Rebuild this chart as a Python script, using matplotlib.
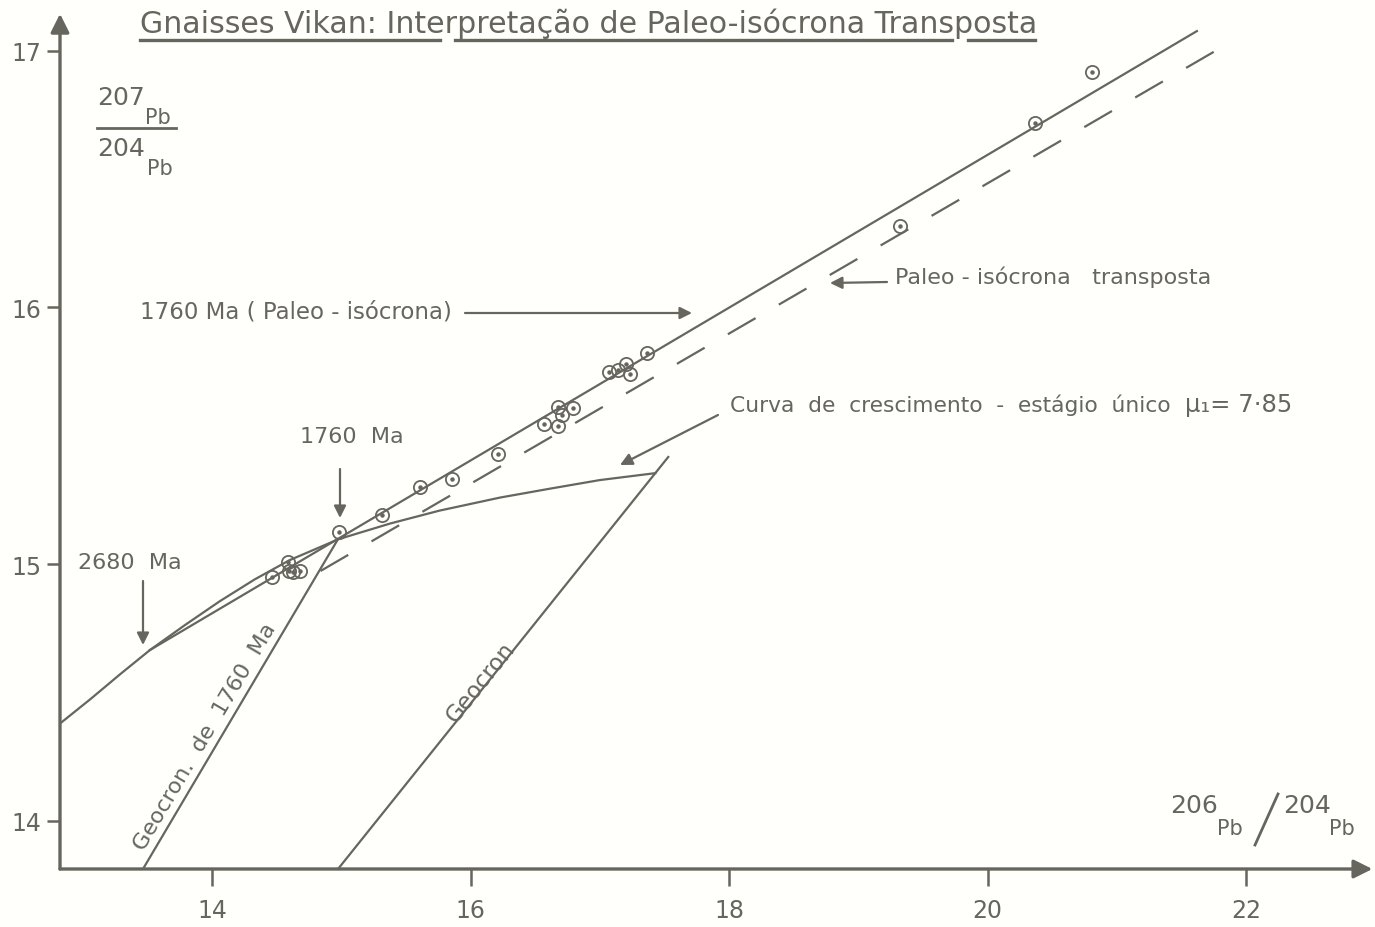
import numpy as np
import matplotlib.pyplot as plt

W, H = 1375, 928
ink = '#66665e'
bg = '#fffffb'

# curva de crescimento (estagio unico, mu = 7.85)
curve_x = [12.82, 13.06, 13.29, 13.52, 13.79, 14.06, 14.33, 14.60, 14.98,
           15.38, 15.76, 16.23, 16.62, 17.00, 17.43]
curve_y = [14.377, 14.474, 14.571, 14.665, 14.762, 14.855, 14.940, 15.015, 15.097,
           15.158, 15.208, 15.259, 15.294, 15.327, 15.354]

# paleo-isocrona 1760 Ma
iso_x = [13.52, 21.62]
iso_y = [14.665, 17.076]

# paleo-isocrona transposta
trans_x = [14.84, 21.75]
trans_y = [14.973, 16.995]

# geocronas
geo1760_x = [13.466, 14.975]
geo1760_y = [13.812, 15.097]
geocron_x = [14.975, 17.53]
geocron_y = [13.812, 15.417]

# amostras
sample_x = [14.464, 14.588, 14.596, 14.627, 14.681, 14.983, 15.315, 15.609, 15.857,
            16.213, 16.569, 16.677, 16.708, 16.677, 16.793, 17.072, 17.141, 17.203,
            17.234, 17.366, 19.323, 20.368, 20.808]
sample_y = [14.949, 15.008, 14.973, 14.969, 14.973, 15.125, 15.191, 15.300, 15.331,
            15.429, 15.545, 15.612, 15.580, 15.538, 15.608, 15.748, 15.756, 15.779,
            15.740, 15.822, 16.317, 16.718, 16.917]

xticks = [14, 16, 18, 20, 22]
yticks = [14, 15, 16, 17]


def P(px, py):
    # pixel do desenho -> fracao da figura
    return px / W, 1 - py / H


fig = plt.figure(figsize=(W / 100, H / 100), dpi=100, facecolor=bg)
ax = fig.add_axes([60 / W, 1 - 870 / H, 1 - 60 / W, 870 / H])
ax.set_facecolor(bg)
ax.set_xlim(12.824, 22.998)
ax.set_ylim(13.812, 17.201)
for s in ax.spines.values():
    s.set_visible(False)

ax.set_xticks(xticks)
ax.set_yticks(yticks)
ax.tick_params(axis='x', direction='out', length=12, width=1.8, pad=9,
               color=ink, labelcolor=ink, labelsize=17)
ax.tick_params(axis='y', direction='out', length=9.5, width=1.8, pad=4,
               color=ink, labelcolor=ink, labelsize=17)

# eixos com setas
ax.annotate('', xy=(0.998, 0), xytext=(0, 0), xycoords='axes fraction',
            arrowprops=dict(arrowstyle='-|>', lw=2.4, color=ink, mutation_scale=28,
                            shrinkA=0, shrinkB=0))
ax.annotate('', xy=(0, 0.983), xytext=(0, 0), xycoords='axes fraction',
            arrowprops=dict(arrowstyle='-|>', lw=2.4, color=ink, mutation_scale=28,
                            shrinkA=0, shrinkB=0))

lw = 1.6
ax.plot(curve_x, curve_y, color=ink, lw=lw)
ax.plot(iso_x, iso_y, color=ink, lw=lw)
ax.plot(trans_x, trans_y, color=ink, lw=lw, ls=(0, (14.4, 12.1)))
ax.plot(geo1760_x, geo1760_y, color=ink, lw=lw)
ax.plot(geocron_x, geocron_y, color=ink, lw=lw)

ax.plot(sample_x, sample_y, ls='none', marker='o', ms=9.5, mfc='none', mec=ink, mew=1.3)
ax.plot(sample_x, sample_y, ls='none', marker='o', ms=2.2, mfc=ink, mec=ink)

# titulo sublinhado
fig.text(*P(140, 24), 'Gnaisses Vikan: Interpretação de Paleo-isócrona Transposta',
         fontsize=21.6, color=ink, ha='left', va='center')
for a, b in [(140, 440), (455, 952), (968, 1035)]:
    fig.add_artist(plt.Line2D([a / W, b / W], [1 - 41 / H, 1 - 41 / H], color=ink, lw=2.4))

# rotulo eixo y
fig.text(*P(97, 98), '207', fontsize=18, color=ink, ha='left', va='center')
fig.text(*P(145, 118), 'Pb', fontsize=15, color=ink, ha='left', va='center')
fig.add_artist(plt.Line2D([97 / W, 176 / W], [1 - 129 / H, 1 - 129 / H], color=ink, lw=2))
fig.text(*P(97, 149), '204', fontsize=18, color=ink, ha='left', va='center')
fig.text(*P(147, 169), 'Pb', fontsize=15, color=ink, ha='left', va='center')

# rotulo eixo x
fig.text(*P(1170, 806), '206', fontsize=18, color=ink, ha='left', va='center')
fig.text(*P(1217, 829), 'Pb', fontsize=15, color=ink, ha='left', va='center')
fig.add_artist(plt.Line2D([1255 / W, 1278 / W], [1 - 846 / H, 1 - 795 / H], color=ink, lw=2))
fig.text(*P(1283, 806), '204', fontsize=18, color=ink, ha='left', va='center')
fig.text(*P(1329, 829), 'Pb', fontsize=15, color=ink, ha='left', va='center')

# anotacoes
arrow = dict(arrowstyle='-|>', lw=1.6, color=ink, mutation_scale=18, shrinkA=0, shrinkB=0)
fig.text(*P(140, 312), '1760 Ma ( Paleo - isócrona)', fontsize=16.5, color=ink,
         ha='left', va='center')
ax.annotate('', xy=P(692, 314), xytext=P(465, 314), xycoords='figure fraction',
            arrowprops=arrow)
fig.text(*P(895, 277), 'Paleo - isócrona   transposta', fontsize=16, color=ink,
         ha='left', va='center')
ax.annotate('', xy=P(830, 284), xytext=P(887, 283), xycoords='figure fraction',
            arrowprops=arrow)
fig.text(*P(730, 405), 'Curva  de  crescimento  -  estágio  único', fontsize=15.7,
         color=ink, ha='left', va='center')
fig.text(*P(1185, 405), 'μ₁= 7·85', fontsize=17.5, color=ink, ha='left', va='center')
ax.annotate('', xy=P(620, 466), xytext=P(718, 416), xycoords='figure fraction',
            arrowprops=arrow)
fig.text(*P(300, 437), '1760  Ma', fontsize=16, color=ink, ha='left', va='center')
ax.annotate('', xy=P(340, 519), xytext=P(340, 470), xycoords='figure fraction',
            arrowprops=arrow)
fig.text(*P(78, 563), '2680  Ma', fontsize=16, color=ink, ha='left', va='center')
ax.annotate('', xy=P(143, 646), xytext=P(143, 582), xycoords='figure fraction',
            arrowprops=arrow)

fig.text(*P(205, 737), 'Geocron.  de  1760  Ma', fontsize=16, color=ink,
         rotation=59.4, ha='center', va='center')
fig.text(*P(481, 683), 'Geocron', fontsize=16.5, color=ink,
         rotation=51.3, ha='center', va='center')

fig.savefig('out.png', dpi=100, facecolor=bg)
